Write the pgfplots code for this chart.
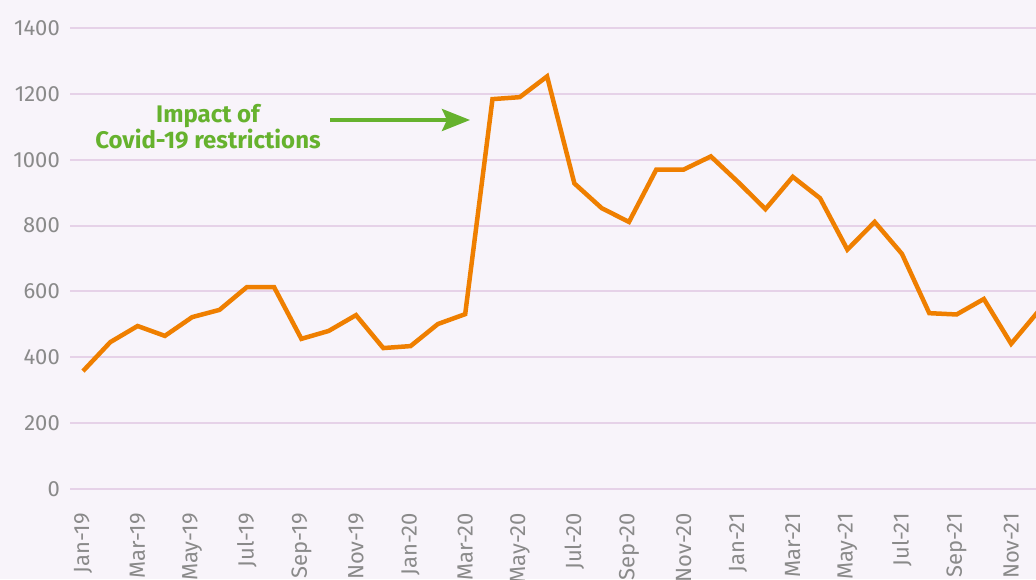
\documentclass[border=0pt]{standalone}
\usepackage{fontspec}
\setmainfont{Fira Sans}
\usepackage{pgfplots}
\pgfplotsset{compat=1.18}
\usetikzlibrary{arrows.meta}
\definecolor{bgc}{HTML}{F8F4FA}
\definecolor{gridc}{HTML}{E6D2E8}
\definecolor{linec}{HTML}{EF7F00}
\definecolor{greenc}{HTML}{66B22E}
\definecolor{tickc}{HTML}{8A8A8A}
\pgfplotstableread{
x y
0 358
1 446
2 495
3 465
4 522
5 544
6 613
7 613
8 456
9 480
10 528
11 428
12 434
13 501
14 531
15 1184
16 1190
17 1253
18 928
19 853
20 811
21 970
22 970
23 1010
24 932
25 850
26 948
27 883
28 727
29 811
30 714
31 534
32 530
33 577
34 441
35 540
}\datatable
\begin{document}
\begin{tikzpicture}
\fill[bgc] (0pt,0pt) rectangle (1036pt,579pt);
\begin{axis}[
  at={(70pt,90pt)}, anchor=south west,
  scale only axis, width=966pt, height=461pt,
  xmin=-0.476, xmax=34.91, ymin=0, ymax=1400,
  axis line style={draw=none},
  major tick length=0pt,
  ymajorgrids, grid style={color=gridc, line width=2pt},
  ytick={0,200,...,1400},
  xtick={0,2,...,34},
  xticklabels={Jan-19,Mar-19,May-19,Jul-19,Sep-19,Nov-19,Jan-20,Mar-20,May-20,Jul-20,Sep-20,Nov-20,Jan-21,Mar-21,May-21,Jul-21,Sep-21,Nov-21},
  /pgf/number format/assume math mode=true,
  /pgf/number format/1000 sep={},
  tick label style={font=\fontsize{22}{26}\selectfont, text=tickc},
  yticklabel style={anchor=east, inner sep=0pt, xshift=-10pt},
  xticklabel style={rotate=90, anchor=east, inner sep=0pt, xshift=-24pt},
]
\addplot[color=linec, line width=4.5pt] table[x=x,y=y]{\datatable};
\end{axis}
\draw[greenc, line width=4pt, -{Stealth[length=28pt,width=22pt,inset=5pt]}] (330pt,459pt) -- (470pt,459pt);
\node[anchor=base, text=greenc, font=\bfseries\fontsize{24}{28}\selectfont, inner sep=0pt] at (208pt,456pt) {Impact of};
\node[anchor=base, text=greenc, font=\bfseries\fontsize{24}{28}\selectfont, inner sep=0pt] at (208pt,430pt) {Covid-19 restrictions};
\pgfresetboundingbox
\useasboundingbox (0pt,0pt) rectangle (1036pt,579pt);
\end{tikzpicture}
\end{document}
